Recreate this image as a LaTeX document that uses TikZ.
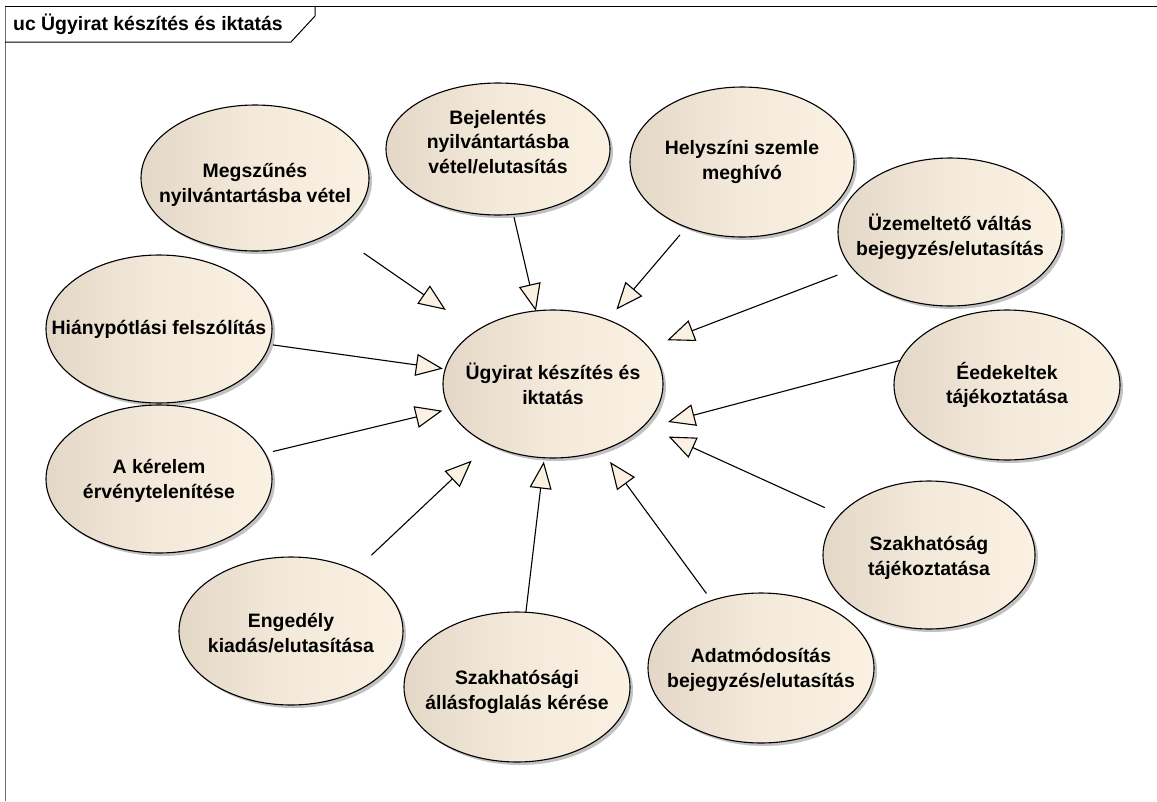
\documentclass[tikz,border=0pt]{standalone}
\usepackage{fontspec}
\setmainfont{Liberation Sans}
\usetikzlibrary{shapes.geometric,arrows.meta,shadows}
\definecolor{ucdark}{HTML}{E3D8C8}
\definecolor{uclight}{HTML}{FBF1E2}
\definecolor{ucshadow}{HTML}{9A9A9A}
\definecolor{framegray}{HTML}{707070}
\tikzset{
  usecase/.style 2 args={ellipse, draw=black, line width=1.1pt, inner sep=0pt, outer sep=0pt,
    minimum width=#1, minimum height=#2,
    left color=ucdark, right color=uclight, middle color=uclight!70!ucdark,
    drop shadow={shadow xshift=3pt, shadow yshift=-3pt, fill=ucshadow, opacity=0.6}},
  uctext/.style={font=\bfseries\fontsize{19.4}{24.5}\selectfont, align=center, inner sep=0pt, text=black},
  gen/.style={draw=black, line width=1.1pt,
    -{Triangle[length=27pt, width=22pt, fill=uclight, line width=1.1pt]}},
}
\begin{document}
\begin{tikzpicture}[x=1pt,y=-1pt]
\useasboundingbox (0,0) rectangle (1157,801);
\fill[white] (0,0) rectangle (1157,801);
% frame
\draw[framegray, line width=1pt] (5,6) -- (5,801);
\draw[black, line width=1pt] (5,6) -- (1157,6);
\draw[black, line width=1pt] (5,42) -- (291,42) -- (315,16) -- (315,6);
\node[uctext, anchor=west] (title) at (13,24) {uc Ügyirat készítés és iktatás};

% use cases
\node[usecase={220}{148}, label={[uctext]center:{Ügyirat készítés és\\iktatás}}] (c) at (553,384) {};
\node[usecase={228}{146}, label={[uctext,yshift=-7pt]center:{Megszűnés\\nyilvántartásba vétel}}] (meg) at (255,178) {};
\node[usecase={224}{132}, label={[uctext,yshift=7pt]center:{Bejelentés\\nyilvántartásba\\vétel/elutasítás}}] (bej) at (498,149) {};
\node[usecase={224}{150}, label={[uctext]center:{Helyszíni szemle\\meghívó}}] (hely) at (742,162) {};
\node[usecase={224}{148}, label={[uctext,yshift=-5pt]center:{Üzemeltető váltás\\bejegyzés/elutasítás}}] (uzem) at (950,232) {};
\node[usecase={226}{148}, label={[uctext]center:{Hiánypótlási felszólítás}}] (hia) at (159,329) {};
\node[usecase={226}{150}, label={[uctext]center:{Éedekeltek\\tájékoztatása}}] (eed) at (1007,385) {};
\node[usecase={226}{148}, label={[uctext,yshift=-2pt]center:{A kérelem\\érvénytelenítése}}] (ker) at (159,479) {};
\node[usecase={212}{148}, label={[uctext,yshift=-3pt]center:{Szakhatóság\\tájékoztatása}}] (szt) at (929,555) {};
\node[usecase={224}{148}, label={[uctext,yshift=-2pt]center:{Engedély\\kiadás/elutasítása}}] (eng) at (291,631) {};
\node[usecase={226}{150}, label={[uctext,yshift=-5pt]center:{Szakhatósági\\állásfoglalás kérése}}] (szk) at (517,687) {};
\node[usecase={226}{150}, label={[uctext,yshift=-2pt]center:{Adatmódosítás\\bejegyzés/elutasítás}}] (adat) at (761,668) {};

\coordinate (eedtip) at (668,422);

% generalizations
\draw[gen, shorten <=37.9pt, shorten >=37.1pt] (meg) -- (c);
\draw[gen, shorten <=3pt] (bej) -- (c);
\draw[gen, shorten <=10.2pt, shorten >=13.5pt] (hely) -- (c);
\draw[gen, shorten <=16.9pt, shorten >=20pt] (uzem) -- (c);
\draw[gen] (eed.167) -- (eedtip);
\draw[gen, shorten <=17pt, shorten >=26.9pt] (szt) -- (c);
\draw[gen, shorten <=8.8pt, shorten >=14.3pt] (adat) -- (c);
\draw[gen, shorten >=3.9pt] (szk) -- (c);
\draw[gen, shorten <=22.1pt, shorten >=23.9pt] (eng) -- (c);
\draw[gen, shorten <=8.1pt, shorten >=7.3pt] (ker) -- (c);
\draw[gen, shorten <=3.5pt, shorten >=2.5pt] (hia) -- (c);
\end{tikzpicture}
\end{document}
